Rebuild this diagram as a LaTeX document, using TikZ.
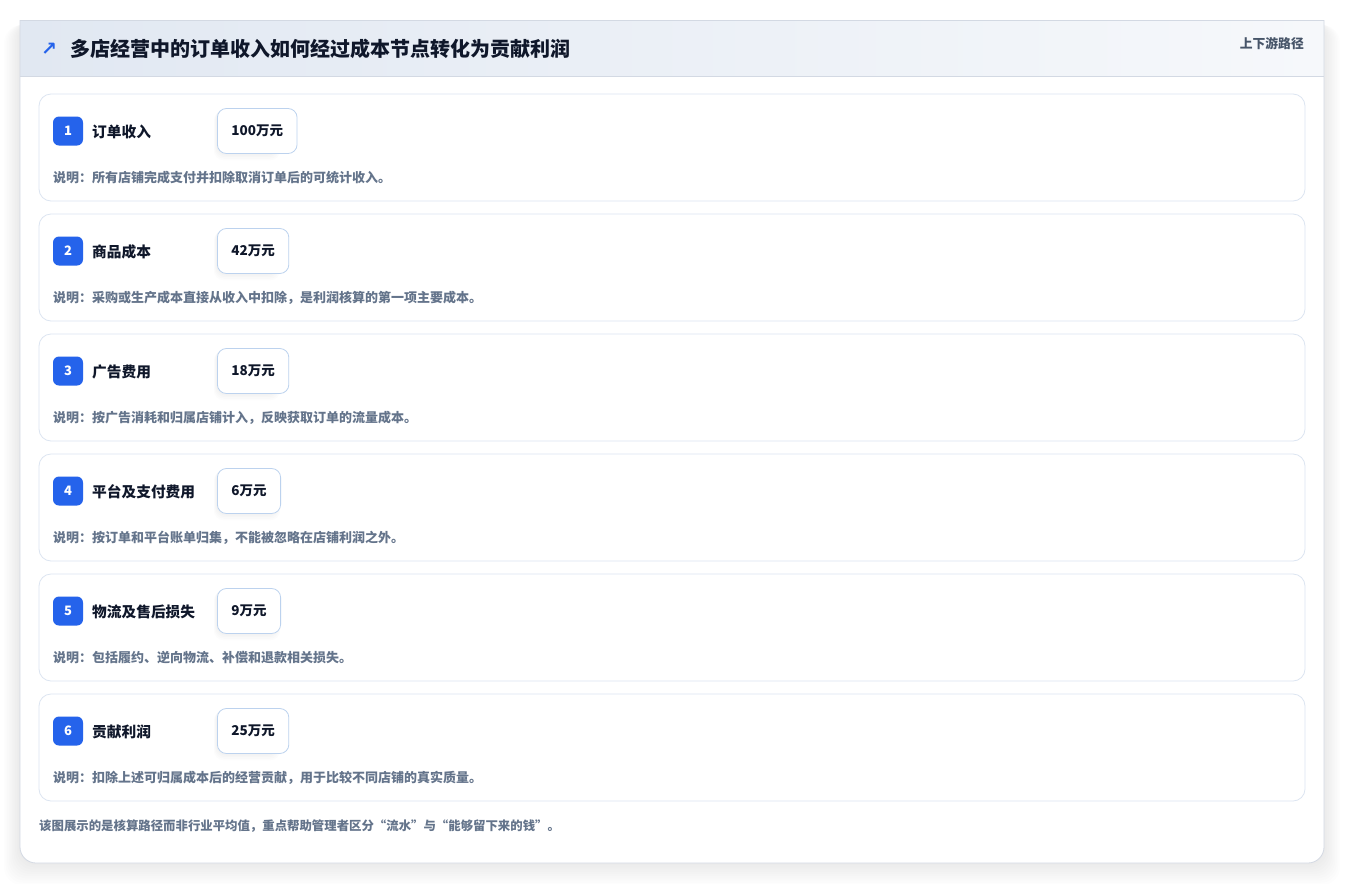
\documentclass[tikz,border=0pt]{standalone}
\usepackage{fontspec}
\setmainfont{Noto Sans CJK SC}
\newfontfamily\cjk{Noto Sans CJK SC}
\newfontfamily\symf{DejaVu Sans}
\usetikzlibrary{positioning}
\definecolor{badgeblue}{HTML}{2563EB}
\definecolor{titlecol}{HTML}{0F172A}
\definecolor{desccol}{HTML}{64748B}
\definecolor{sidecol}{HTML}{475569}
\definecolor{rowborder}{HTML}{DCE5F1}
\definecolor{valborder}{HTML}{BCD2EE}
\definecolor{cardborder}{HTML}{D3D9E3}
\definecolor{headL}{HTML}{E1E8F2}
\definecolor{headR}{HTML}{F6F8FB}
\definecolor{rowfill}{HTML}{FFFFFF}
\tikzset{
  rowbox/.style={draw=rowborder, line width=0.8pt, fill=rowfill, rounded corners=12pt},
  badge/.style={fill=badgeblue, rounded corners=6pt, minimum width=30pt, minimum height=29pt,
     inner sep=0pt, text=white, font=\cjk\bfseries\fontsize{13}{13}\selectfont},
  rowlabel/.style={anchor=west, inner sep=0pt, text=titlecol, font=\cjk\bfseries\fontsize{14.7}{14.7}\selectfont},
  valbox/.style={draw=valborder, line width=0.8pt, fill=white, rounded corners=9pt, anchor=west,
     minimum height=45pt, inner xsep=14pt, text=titlecol, font=\cjk\bfseries\fontsize{13.5}{13.5}\selectfont},
  desc/.style={anchor=west, inner sep=0pt, text=desccol, font=\cjk\bfseries\fontsize{13}{13}\selectfont},
}
\begin{document}
\begin{tikzpicture}[x=1pt,y=-1pt]
\useasboundingbox (0,0) rectangle (1345,884);
\fill[white] (0,0) rectangle (1345,884);
% outer card shadow
\foreach \i in {1,...,10}{
  \fill[black, opacity=0.008, rounded corners=18pt] ({20-1.6*\i},{20+0.5*\i}) rectangle ({1324+1.6*\i},{863+2.2*\i});
}
% outer card
\fill[white, rounded corners=16pt] (20,20) -- (1324,20) -- (1324,863) -- (20,863) -- cycle;
\fill[white] (20,20) rectangle (1324,60);
% header band
\shade[left color=headL, right color=headR] (20,20) rectangle (1324,76);
\draw[cardborder, line width=0.6pt] (20,76) -- (1324,76);
\draw[cardborder, line width=0.8pt] (20,20) -- (1324,20);
\draw[cardborder, line width=0.8pt, rounded corners=16pt] (1324,20) -- (1324,863) -- (20,863) -- (20,20);
% title
\node[anchor=west, inner sep=0pt, text=badgeblue, font=\symf\bfseries\fontsize{19}{19}\selectfont] (icon) at (41,49) {↗};
\node[anchor=west, inner sep=0pt, text=titlecol, font=\cjk\bfseries\fontsize{20}{20}\selectfont] (title) at (70,49) {多店经营中的订单收入如何经过成本节点转化为贡献利润};
\node[anchor=east, inner sep=0pt, text=sidecol, font=\cjk\bfseries\fontsize{12.8}{12.8}\selectfont] (side) at (1304,44) {上下游路径};
% rows
\foreach \n/\lab/\val/\d [count=\k from 0] in {
  1/订单收入/100万元/说明：所有店铺完成支付并扣除取消订单后的可统计收入。,
  2/商品成本/42万元/说明：采购或生产成本直接从收入中扣除，是利润核算的第一项主要成本。,
  3/广告费用/18万元/说明：按广告消耗和归属店铺计入，反映获取订单的流量成本。,
  4/平台及支付费用/6万元/说明：按订单和平台账单归集，不能被忽略在店铺利润之外。,
  5/物流及售后损失/9万元/说明：包括履约、逆向物流、补偿和退款相关损失。,
  6/贡献利润/25万元/说明：扣除上述可归属成本后的经营贡献，用于比较不同店铺的真实质量。}{
  \pgfmathsetmacro{\yy}{94+120*\k}
  \draw[rowbox] (39,\yy) rectangle (1305,\yy+107);
  \node[badge] (b\n) at (68,\yy+37) {\n};
  \node[rowlabel] (l\n) at (92,\yy+37.5) {\lab};
  \foreach \j in {1,...,4}{
    \fill[black, opacity=0.012, rounded corners=10pt] ({217-0.8*\j},{\yy+14+0.6*\j}) rectangle ({217+60+0.8*\j},{\yy+60+1.6*\j});
  }
  \node[valbox] (v\n) at (217,\yy+37) {\val};
  \node[desc] (d\n) at (53,\yy+84) {\d};
}
% footer
\node[anchor=west, inner sep=0pt, text=desccol, font=\cjk\bfseries\fontsize{12.4}{12.4}\selectfont] (foot) at (39,826) {该图展示的是核算路径而非行业平均值，重点帮助管理者区分“流水”与“能够留下来的钱”。};
\end{tikzpicture}
\end{document}
